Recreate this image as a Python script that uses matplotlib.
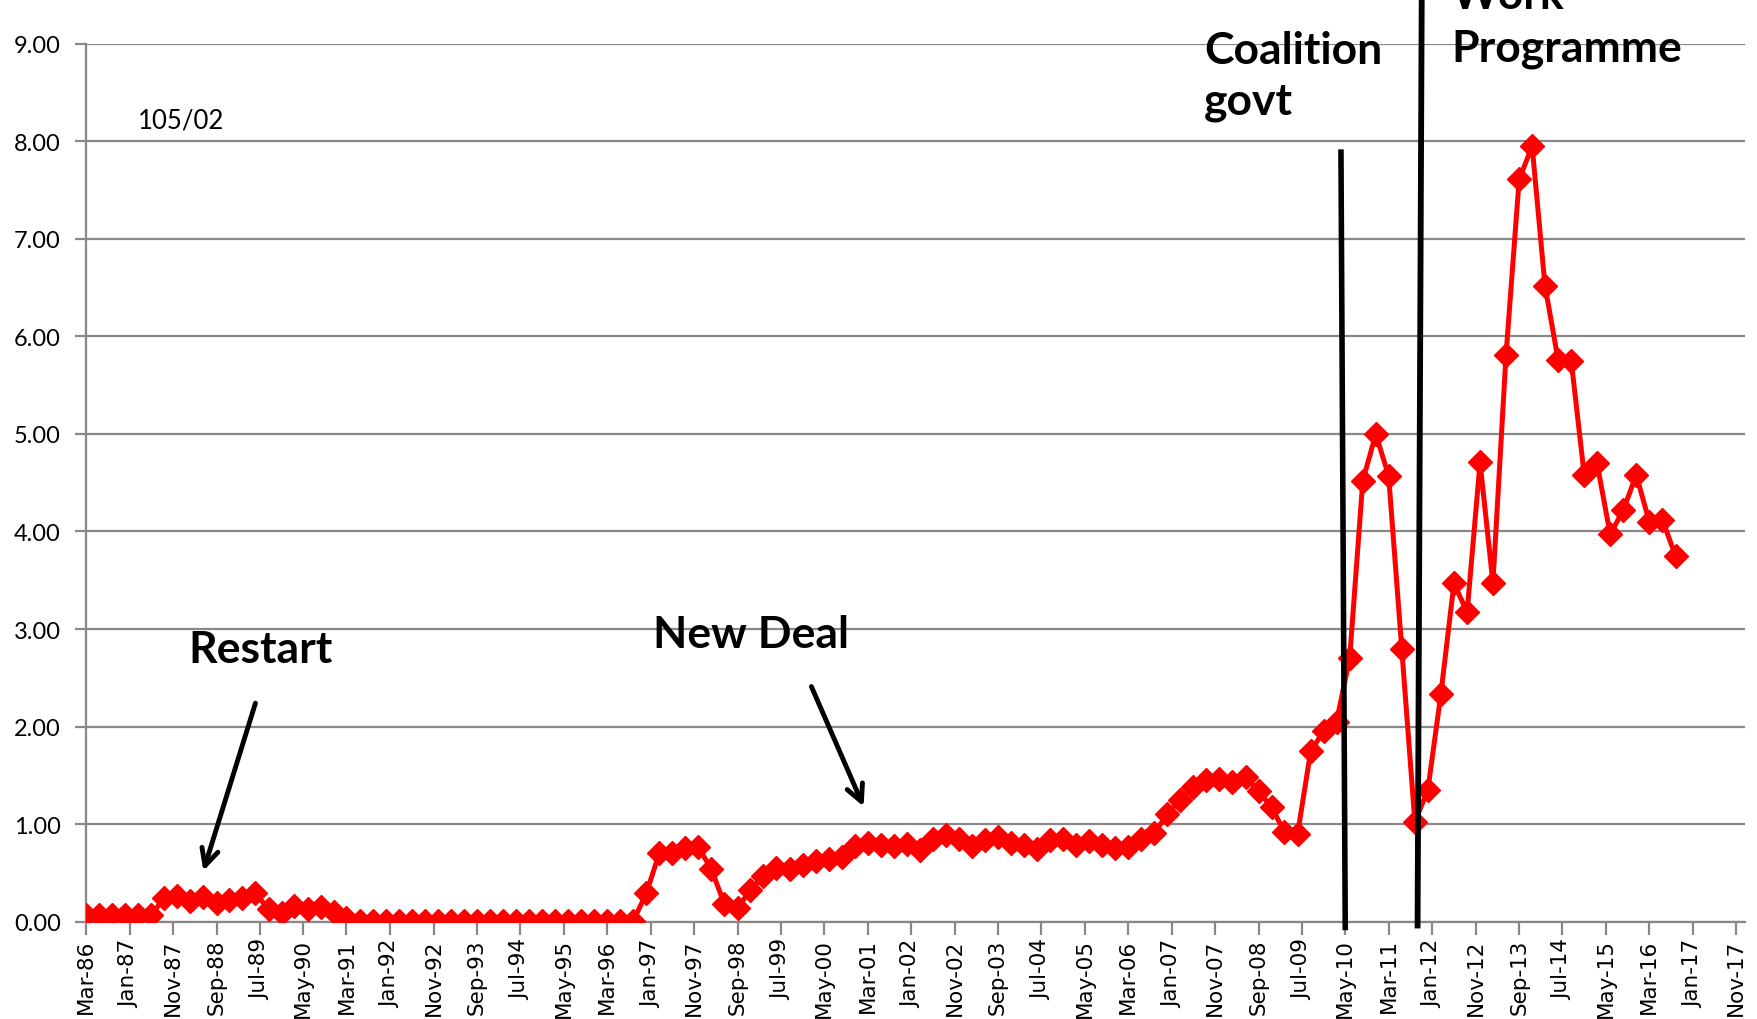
import matplotlib.pyplot as plt
import matplotlib.dates as mdates
import pandas as pd
from datetime import datetime

# quarterly series, Mar-86 .. Sep-16
values = [
    0.07, 0.07, 0.07, 0.07, 0.07, 0.07, 0.24, 0.26, 0.21, 0.25,
    0.19, 0.22, 0.24, 0.29, 0.13, 0.09, 0.16, 0.13, 0.15, 0.10,
    0.04, 0.01, 0.01, 0.01, 0.01, 0.01, 0.01, 0.01, 0.01, 0.01,
    0.01, 0.01, 0.01, 0.01, 0.01, 0.01, 0.01, 0.01, 0.01, 0.01,
    0.01, 0.01, 0.01, 0.29, 0.70, 0.70, 0.75, 0.76, 0.54, 0.18,
    0.14, 0.32, 0.47, 0.55, 0.54, 0.58, 0.62, 0.64, 0.66, 0.78,
    0.81, 0.79, 0.77, 0.80, 0.73, 0.85, 0.89, 0.85, 0.78, 0.84,
    0.87, 0.81, 0.79, 0.74, 0.84, 0.85, 0.79, 0.83, 0.79, 0.75,
    0.76, 0.85, 0.91, 1.10, 1.25, 1.38, 1.45, 1.46, 1.43, 1.48,
    1.34, 1.17, 0.92, 0.90, 1.75, 1.95, 2.05, 2.70, 4.52, 5.00,
    4.57, 2.80, 1.02, 1.35, 2.33, 3.47, 3.17, 4.71, 3.47, 5.81,
    7.61, 7.95, 6.52, 5.76, 5.75, 4.58, 4.70, 3.97, 4.22, 4.58,
    4.10, 4.12, 3.75,
]
quarters = pd.date_range("1986-03-01", periods=len(values), freq="3MS")

tick_labels = [
    "Mar-86", "Jan-87", "Nov-87", "Sep-88", "Jul-89", "May-90", "Mar-91",
    "Jan-92", "Nov-92", "Sep-93", "Jul-94", "May-95", "Mar-96", "Jan-97",
    "Nov-97", "Sep-98", "Jul-99", "May-00", "Mar-01", "Jan-02", "Nov-02",
    "Sep-03", "Jul-04", "May-05", "Mar-06", "Jan-07", "Nov-07", "Sep-08",
    "Jul-09", "May-10", "Mar-11", "Jan-12", "Nov-12", "Sep-13", "Jul-14",
    "May-15", "Mar-16", "Jan-17", "Nov-17",
]
tick_dates = pd.date_range("1986-03-01", "2017-11-01", freq="10MS")

d = mdates.date2num
grey = "#888888"

fig = plt.figure(figsize=(17.58, 10.2), dpi=100)
ax = fig.add_axes([0.0489, 0.0955, 0.9437, 0.8605])

ax.plot(quarters, values, color="#ff0000", linewidth=3.6, marker="D",
        markersize=12, zorder=3)

ax.set_ylim(0, 9)
ax.set_yticks(range(10))
ax.set_yticklabels([f"{v:.2f}" for v in range(10)], family="Lato", fontsize=17)
ax.yaxis.grid(True, color=grey, linewidth=1.6)
ax.set_axisbelow(True)

ax.set_xlim(tick_dates[0], datetime(2018, 1, 1))
ax.set_xticks(tick_dates)
ax.set_xticklabels(tick_labels, rotation=90, fontsize=15.5, family="DejaVu Sans")

for s in ["top", "right"]:
    ax.spines[s].set_visible(False)
for s in ["left", "bottom"]:
    ax.spines[s].set_color(grey)
    ax.spines[s].set_linewidth(1.6)
ax.tick_params(axis="y", length=8, width=1.6, color=grey, pad=10)
ax.tick_params(axis="x", length=9, width=1.6, color=grey, pad=3)

# policy marker lines
ax.plot([d(datetime(2010, 4, 1)), d(datetime(2010, 5, 1))], [7.89, -0.06],
        color="black", linewidth=4.0, clip_on=False, zorder=4)
ax.plot([d(datetime(2011, 10, 20)), d(datetime(2011, 9, 20))], [9.8, -0.04],
        color="black", linewidth=4.2, clip_on=False, zorder=4)

bold = dict(family="Lato", fontweight="bold", fontsize=32, color="black")
ax.text(d(datetime(2007, 8, 15)), 8.80, "Coalition", **bold)
ax.text(d(datetime(2007, 8, 15)), 8.29, "govt", **bold)
ax.text(d(datetime(2012, 5, 15)), 9.37, "Work", clip_on=False, **bold)
ax.text(d(datetime(2012, 5, 15)), 8.83, "Programme", **bold)
ax.text(d(datetime(1988, 2, 15)), 2.66, "Restart", **bold)
ax.text(d(datetime(1997, 1, 20)), 2.82, "New Deal", **bold)
ax.text(d(datetime(1987, 3, 1)), 8.14, "105/02", family="Lato", fontsize=18.5)

arrow = dict(arrowstyle="->", lw=3.5, color="black", mutation_scale=30,
             shrinkA=0, shrinkB=0)
ax.annotate("", xy=(d(datetime(1988, 6, 1)), 0.52),
            xytext=(d(datetime(1989, 6, 1)), 2.24), arrowprops=arrow)
ax.annotate("", xy=(d(datetime(2001, 2, 1)), 1.18),
            xytext=(d(datetime(2000, 2, 1)), 2.41), arrowprops=arrow)

fig.savefig("out.png", dpi=100)
